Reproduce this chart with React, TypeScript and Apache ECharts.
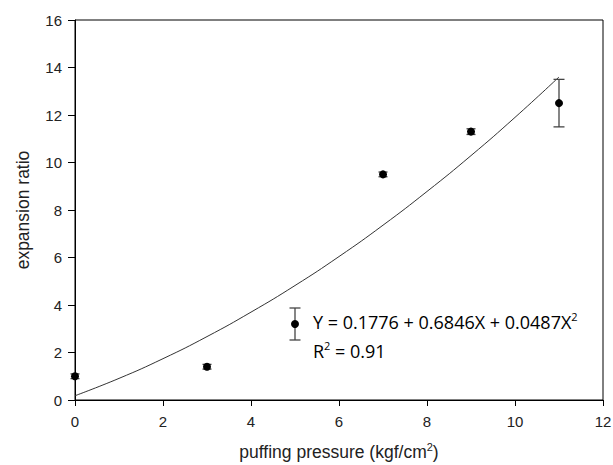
import React, { useEffect, useRef } from "react";
import * as echarts from "echarts";

const pressure = [0, 3, 7, 9, 11];
const ratio = [1.0, 1.4, 9.5, 11.3, 12.5];
const ratioErr = [0.1, 0.1, 0.1, 0.12, 1.0];
const fitX = [0, 1, 2, 3, 4, 5, 6, 7, 8, 9, 10, 11];
const fitY = [0.18, 0.91, 1.74, 2.67, 3.7, 4.82, 6.04, 7.36, 8.78, 10.29, 11.9, 13.6];
const xTicks = [0, 2, 4, 6, 8, 10, 12];
const yTicks = [0, 2, 4, 6, 8, 10, 12, 14, 16];

export default function App() {
  const ref = useRef<HTMLDivElement>(null);
  useEffect(() => {
    document.body.style.margin = "0";
    const chart = echarts.init(ref.current!, null, { renderer: "svg" });
    const axisFont = { fontFamily: "Liberation Sans, Arial, sans-serif", color: "#222" };
    const legendFont = "18px 'Open Sans', 'Noto Sans', sans-serif";
    const supRich = { sup: { fontSize: 11, verticalAlign: "top", padding: [0, 0, 10, 0], fontFamily: "'Open Sans', sans-serif" } };
    chart.setOption({
      animation: false,
      backgroundColor: "#fff",
      grid: {
        left: 75, right: 10, top: 20, bottom: 65,
        outerBoundsMode: "none", containLabel: false,
        show: true, borderColor: "#000", borderWidth: 1,
      },
      xAxis: {
        type: "value",
        min: xTicks[0],
        max: xTicks[xTicks.length - 1],
        interval: 2,
        name: "puffing pressure (kgf/cm{sup|2})",
        nameLocation: "middle",
        nameGap: 41,
        nameTextStyle: {
          ...axisFont,
          fontSize: 17.5,
          rich: { sup: { fontSize: 11, verticalAlign: "top", padding: [0, 0, 10, 0], ...axisFont } },
        },
        axisLine: { lineStyle: { color: "#000", width: 1 } },
        axisTick: { show: true, length: 6, lineStyle: { color: "#000" } },
        axisLabel: { ...axisFont, fontSize: 15, margin: 14 },
        splitLine: { show: false },
      },
      yAxis: {
        type: "value",
        min: yTicks[0],
        max: yTicks[yTicks.length - 1],
        interval: 2,
        name: "expansion ratio",
        nameLocation: "middle",
        nameGap: 43,
        nameTextStyle: { ...axisFont, fontSize: 17.5 },
        axisLine: { lineStyle: { color: "#000", width: 1 } },
        axisTick: { show: true, length: 7, lineStyle: { color: "#000" } },
        axisLabel: { ...axisFont, fontSize: 15, margin: 13 },
        splitLine: { show: false },
      },
      series: [
        {
          type: "line",
          data: fitX.map((x, i) => [x, fitY[i]]),
          smooth: true,
          showSymbol: false,
          lineStyle: { color: "#333", width: 1 },
          z: 1,
        },
        {
          type: "custom",
          data: pressure.map((x, i) => [x, ratio[i], ratioErr[i]]),
          renderItem: (params: any, api: any) => {
            const x = api.value(0);
            const y = api.value(1);
            const e = api.value(2);
            const hi = api.coord([x, y + e]);
            const lo = api.coord([x, y - e]);
            const hw = e > 0.5 ? 5.5 : 4.5;
            const style = { stroke: "#444", lineWidth: 1.3 };
            return {
              type: "group",
              children: [
                { type: "line", shape: { x1: hi[0], y1: hi[1], x2: lo[0], y2: lo[1] }, style },
                { type: "line", shape: { x1: hi[0] - hw, y1: hi[1], x2: hi[0] + hw, y2: hi[1] }, style },
                { type: "line", shape: { x1: lo[0] - hw, y1: lo[1], x2: lo[0] + hw, y2: lo[1] }, style },
              ],
            };
          },
          z: 2,
        },
        {
          type: "scatter",
          data: pressure.map((x, i) => [x, ratio[i]]),
          symbol: "circle",
          symbolSize: 8,
          itemStyle: { color: "#000", opacity: 1 },
          z: 3,
        },
      ],
      graphic: [
        { type: "line", shape: { x1: 295, y1: 308, x2: 295, y2: 340 }, style: { stroke: "#444", lineWidth: 1.3 } },
        { type: "line", shape: { x1: 289.5, y1: 308, x2: 300.5, y2: 308 }, style: { stroke: "#444", lineWidth: 1.3 } },
        { type: "line", shape: { x1: 289.5, y1: 340, x2: 300.5, y2: 340 }, style: { stroke: "#444", lineWidth: 1.3 } },
        { type: "circle", shape: { cx: 295, cy: 324, r: 4 }, style: { fill: "#000" } },
        {
          type: "text",
          left: 313,
          top: 311,
          style: { text: "Y = 0.1776 + 0.6846X + 0.0487X{sup|2}", font: legendFont, fill: "#000", rich: supRich },
        },
        {
          type: "text",
          left: 313,
          top: 340,
          style: { text: "R{sup|2} = 0.91", font: legendFont, fill: "#000", rich: supRich },
        },
      ],
    });
    return () => chart.dispose();
  }, []);
  return <div ref={ref} style={{ width: 613, height: 465 }} />;
}
